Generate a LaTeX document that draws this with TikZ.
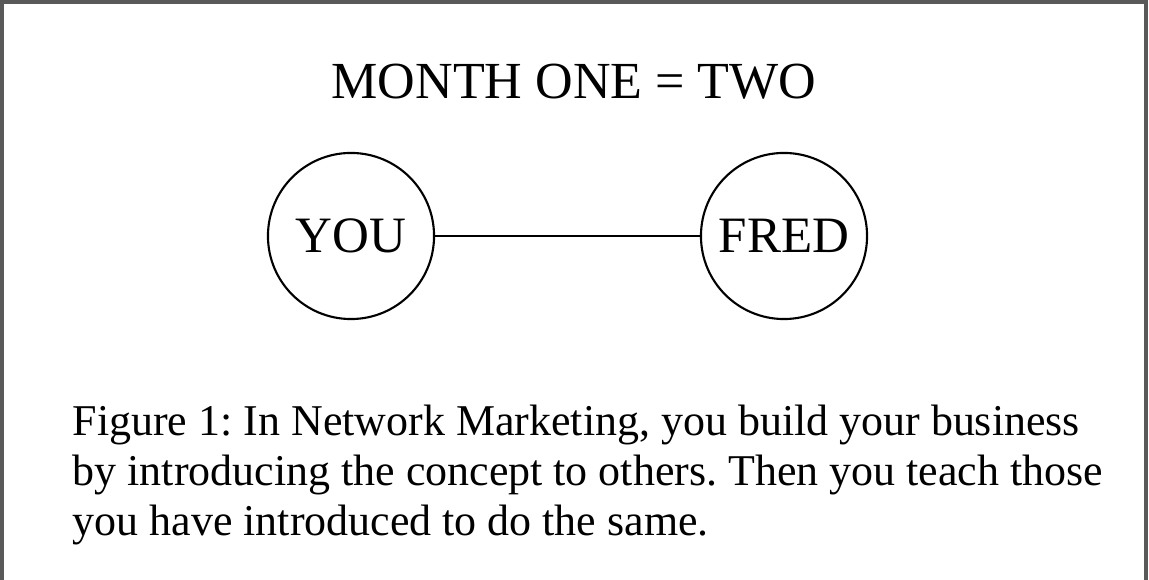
\documentclass[tikz,border=0pt]{standalone}
\usepackage{fontspec}
\setmainfont{Liberation Serif}
\usetikzlibrary{positioning}

\begin{document}
\frenchspacing
\begin{tikzpicture}[x=0.01cm,y=-0.01cm,
  person/.style={circle,draw=black,line width=0.6pt,minimum size=1.66cm,inner sep=0pt,font=\fontsize{14.5}{16}\selectfont},
  frame/.style={draw=black!65,line width=1.4pt}]
\useasboundingbox (0,0) rectangle (1149,580);
\draw[frame] (1.5,580) -- (1.5,2) -- (1146,2) -- (1146,580);

\node[font=\fontsize{14.8}{16}\selectfont] (title) at (574,82) {MONTH ONE = TWO};

\node[person] (you) at (351,236) {YOU};
\node[person] (fred) at (784,236) {FRED};
\draw[line width=0.6pt] (you) to (fred);

\node[anchor=north west,inner sep=0pt,align=left,font=\fontsize{12.5}{14.2}\selectfont] (caption) at (72,404)
  {Figure 1: In Network Marketing, you build your business\\
   by introducing the concept to others. Then you teach those\\
   you have introduced to do the same.};

\end{tikzpicture}
\end{document}
